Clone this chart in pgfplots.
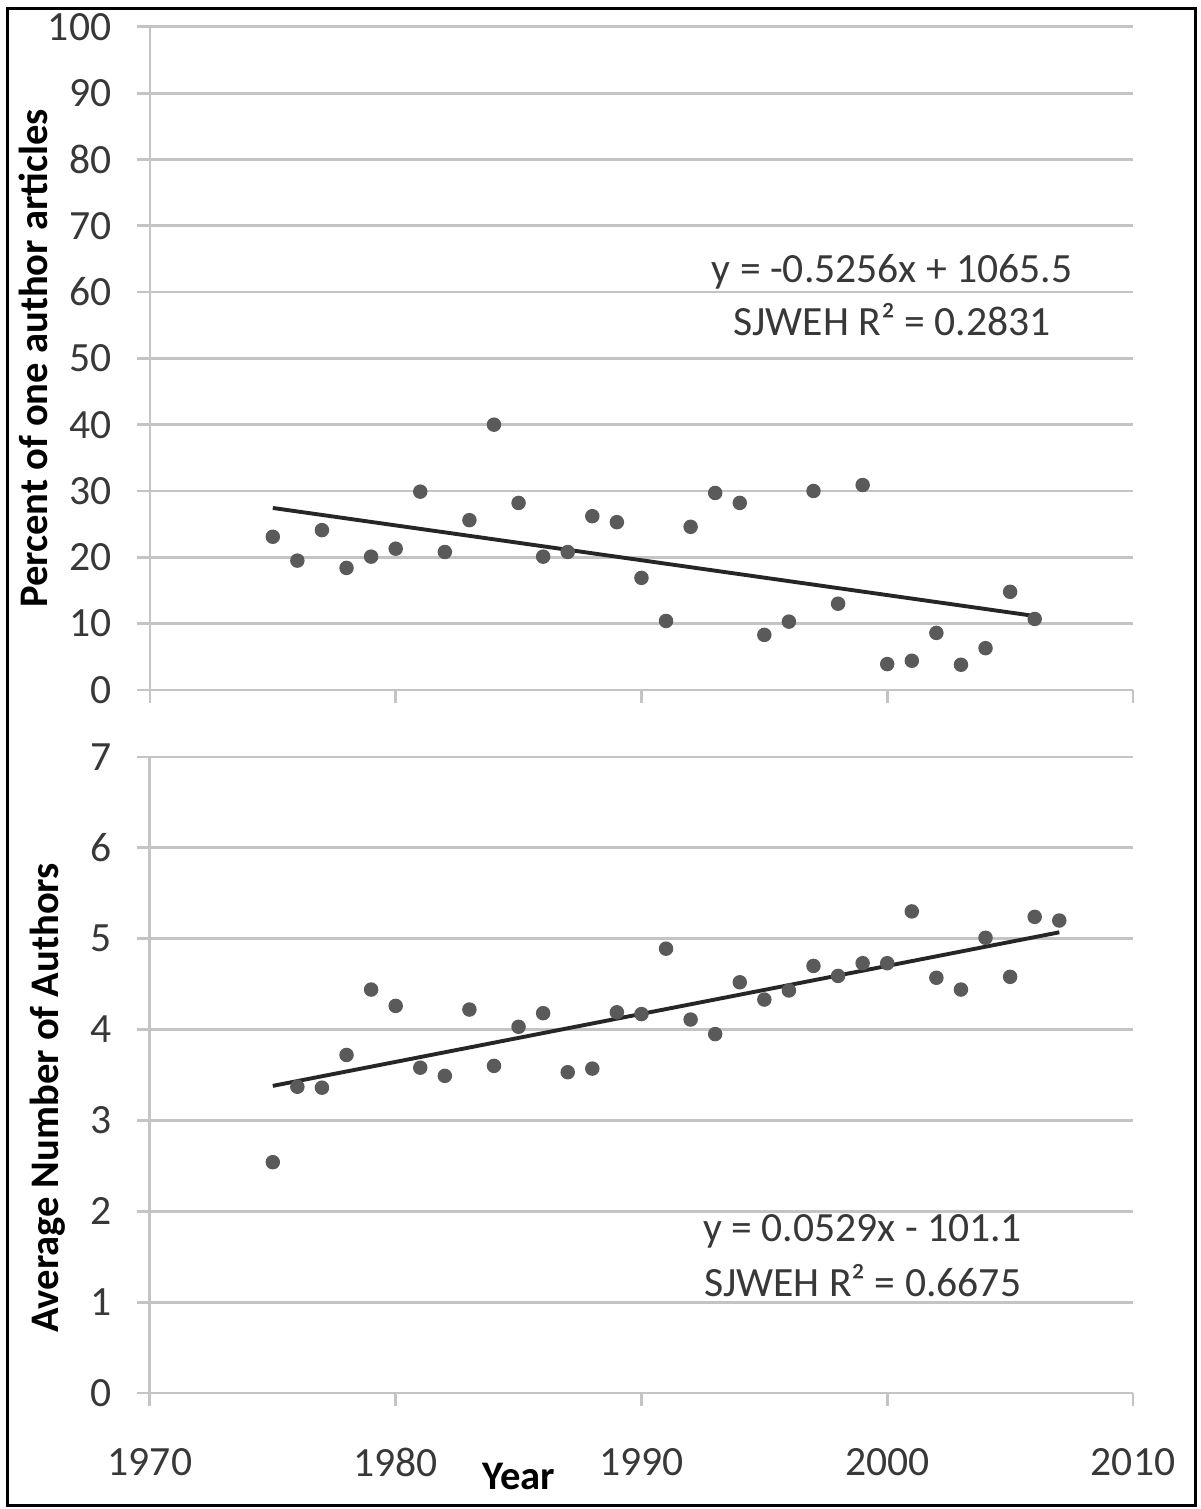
\documentclass[border=0pt]{standalone}
\usepackage{pgfplots}
\pgfplotsset{compat=1.18}
\usepackage{fontspec}
\setmainfont{Carlito}
\definecolor{txt}{HTML}{383838}
\definecolor{gridc}{HTML}{C4C4C4}
\definecolor{dotc}{HTML}{5A5A5A}
\definecolor{fitc}{HTML}{262626}

\pgfplotsset{
  panel/.style={
    scale only axis, width=278.7pt,
    xmin=1970, xmax=2010, xtick={1970,1980,...,2010},
    axis lines=left, axis line style={-, draw=gridc, line width=0.8pt},
    ymajorgrids, grid style={draw=gridc, line width=0.8pt},
    tick align=outside, major tick length=3.7pt,
    tick style={draw=gridc, line width=0.8pt},
    /pgf/number format/assume math mode=true,
    /pgf/number format/1000 sep={},
    ticklabel style={font=\fontsize{11.8}{13}\selectfont, text=txt, inner sep=0pt},
    yticklabel style={anchor=east, xshift=-7.05pt},
    xticklabel style={anchor=center, yshift=-15.9pt},
    label style={font=\fontsize{11.5}{13}\selectfont\bfseries, text=black},
    clip=false,
  },
  dots/.style={only marks, mark=*, mark size=1.85pt, mark options={draw=dotc, fill=dotc}},
  fit/.style={no marks, draw=fitc, line width=1.1pt},
}
\tikzset{eq/.style={font=\fontsize{11.8}{13}\selectfont, text=txt, anchor=center}}

\begin{document}
\begin{tikzpicture}
\useasboundingbox (-42.5pt,-32.9pt) rectangle (297.7pt,394.9pt);
\fill[white] (-42.5pt,-32.9pt) rectangle (297.7pt,394.9pt);

% top: share of single-author articles
\begin{axis}[panel, at={(0pt,199.3pt)}, anchor=south west, height=188pt,
  ymin=0, ymax=100, ytick={0,10,...,100}, xticklabels={},
  ylabel={Percent of one author articles},
  ylabel style={at={(axis description cs:-0.119,0.5)}, anchor=center},
]
\addplot[dots] coordinates {
 (1975,23.1) (1976,19.5) (1977,24.1) (1978,18.4) (1979,20.1) (1980,21.3)
 (1981,29.9) (1982,20.8) (1983,25.6) (1984,40.0) (1985,28.2) (1986,20.1)
 (1987,20.8) (1988,26.2) (1989,25.3) (1990,16.9) (1991,10.4) (1992,24.6)
 (1993,29.7) (1994,28.2) (1995,8.3) (1996,10.3) (1997,30.0) (1998,13.0)
 (1999,30.9) (2000,3.9) (2001,4.4) (2002,8.6) (2003,3.8) (2004,6.3)
 (2005,14.8) (2006,10.7)
};
\addplot[fit] coordinates {(1975,27.44) (2006,11.15)};
\node[eq] at (axis cs:2000.2,63.0) {y = -0.5256x + 1065.5};
\node[eq] at (axis cs:2000.2,55.8) {SJWEH R² = 0.2831};
\end{axis}

% bottom: mean number of authors
\begin{axis}[panel, at={(0pt,0pt)}, anchor=south west, height=180.3pt,
  ymin=0, ymax=7, ytick={0,1,...,7},
  ylabel={Average Number of Authors},
  ylabel style={at={(axis description cs:-0.104,0.464)}, anchor=center},
  xlabel={Year},
  xlabel style={at={(axis description cs:0.375,0)}, anchor=center, yshift=-23.8pt},
]
\addplot[dots] coordinates {
 (1975,2.54) (1976,3.37) (1977,3.36) (1978,3.72) (1979,4.44) (1980,4.26)
 (1981,3.58) (1982,3.49) (1983,4.22) (1984,3.60) (1985,4.03) (1986,4.18)
 (1987,3.53) (1988,3.57) (1989,4.19) (1990,4.17) (1991,4.89) (1992,4.11)
 (1993,3.95) (1994,4.52) (1995,4.33) (1996,4.43) (1997,4.70) (1998,4.59)
 (1999,4.73) (2000,4.73) (2001,5.30) (2002,4.57) (2003,4.44) (2004,5.01)
 (2005,4.58) (2006,5.24) (2007,5.20)
};
\addplot[fit] coordinates {(1975,3.38) (2007,5.07)};
\node[eq] at (axis cs:1999.0,1.78) {y = 0.0529x - 101.1};
\node[eq] at (axis cs:1999.0,1.24) {SJWEH R² = 0.6675};
\end{axis}

\draw[black, line width=0.85pt] (-40.5pt,-31.8pt) rectangle (296.3pt,392.6pt);
\end{tikzpicture}
\end{document}
